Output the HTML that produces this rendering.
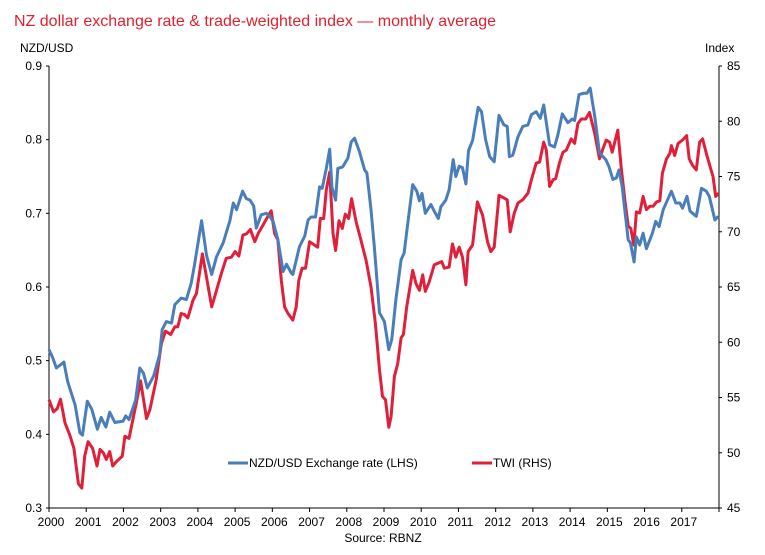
<!DOCTYPE html>
<html><head><meta charset="utf-8"><style>
body{margin:0;background:#fff;}
svg{display:block;font-family:"Liberation Sans",Arial,sans-serif;}
</style></head><body>
<svg id="chart" width="765" height="555" viewBox="0 0 765 555">
<text x="14" y="26" font-size="16" fill="#e2202e">NZ dollar exchange rate &amp; trade-weighted index — monthly average</text>
<text x="20" y="52" font-size="12" fill="#000">NZD/USD</text>
<text x="705" y="52" font-size="12" fill="#000">Index</text>
<g id="axes"></g>
<g id="series"></g>
<g>
<line x1="228" y1="463" x2="248" y2="463" stroke="#4a7ebb" stroke-width="3"/>
<text x="249" y="467" font-size="12">NZD/USD Exchange rate (LHS)</text>
<line x1="472" y1="463" x2="492" y2="463" stroke="#e0203a" stroke-width="3"/>
<text x="493" y="467" font-size="12">TWI (RHS)</text>
</g>
<text x="383" y="542" font-size="12" text-anchor="middle">Source: RBNZ</text>
</svg>
<script>
const years=[2000,2001,2002,2003,2004,2005,2006,2007,2008,2009,2010,2011,2012,2013,2014,2015,2016,2017];
const leftTicks=[0.3,0.4,0.5,0.6,0.7,0.8,0.9];
const rightTicks=[45,50,55,60,65,70,75,80,85];
const nzdT=[2000.0,2000.1,2000.2,2000.4,2000.5,2000.6,2000.7,2000.83,2000.9,2001.03,2001.15,2001.3,2001.4,2001.53,2001.63,2001.77,2001.99,2002.06,2002.15,2002.33,2002.44,2002.54,2002.64,2002.81,2002.97,2003.04,2003.15,2003.29,2003.38,2003.55,2003.69,2003.82,2003.91,2004.1,2004.23,2004.37,2004.5,2004.68,2004.86,2004.95,2005.04,2005.2,2005.3,2005.4,2005.5,2005.57,2005.7,2005.84,2005.93,2006.02,2006.15,2006.29,2006.38,2006.51,2006.55,2006.73,2006.87,2006.96,2007.04,2007.16,2007.27,2007.34,2007.45,2007.54,2007.6,2007.7,2007.76,2007.89,2008.03,2008.12,2008.21,2008.34,2008.48,2008.54,2008.65,2008.74,2008.88,2009.01,2009.13,2009.21,2009.32,2009.46,2009.54,2009.66,2009.77,2009.88,2009.95,2010.02,2010.11,2010.26,2010.35,2010.46,2010.53,2010.66,2010.75,2010.86,2010.93,2011.02,2011.11,2011.2,2011.27,2011.38,2011.53,2011.62,2011.73,2011.84,2011.96,2012.09,2012.22,2012.31,2012.37,2012.46,2012.6,2012.73,2012.87,2012.96,2013.09,2013.2,2013.29,2013.45,2013.58,2013.67,2013.79,2013.94,2014.06,2014.12,2014.24,2014.35,2014.45,2014.54,2014.66,2014.79,2014.96,2015.04,2015.15,2015.24,2015.31,2015.4,2015.56,2015.62,2015.72,2015.78,2015.87,2015.96,2016.05,2016.21,2016.3,2016.39,2016.5,2016.72,2016.84,2016.95,2017.02,2017.14,2017.22,2017.39,2017.53,2017.66,2017.74,2017.89,2017.98];
const nzdV=[0.515,0.504,0.49,0.498,0.472,0.456,0.44,0.402,0.399,0.445,0.434,0.407,0.423,0.41,0.43,0.416,0.418,0.425,0.42,0.447,0.49,0.483,0.463,0.479,0.508,0.542,0.553,0.551,0.576,0.585,0.583,0.605,0.63,0.69,0.643,0.617,0.641,0.66,0.69,0.714,0.705,0.73,0.72,0.718,0.71,0.68,0.698,0.7,0.696,0.689,0.664,0.621,0.631,0.619,0.617,0.655,0.669,0.691,0.695,0.695,0.736,0.734,0.761,0.787,0.736,0.718,0.761,0.763,0.775,0.797,0.802,0.784,0.759,0.755,0.705,0.655,0.565,0.553,0.515,0.529,0.583,0.637,0.646,0.695,0.739,0.73,0.717,0.727,0.7,0.712,0.703,0.693,0.709,0.718,0.732,0.773,0.75,0.764,0.762,0.74,0.785,0.799,0.844,0.838,0.8,0.777,0.77,0.833,0.82,0.818,0.777,0.779,0.804,0.818,0.82,0.834,0.838,0.829,0.847,0.793,0.79,0.806,0.835,0.823,0.828,0.826,0.861,0.863,0.863,0.87,0.832,0.782,0.773,0.764,0.746,0.748,0.759,0.736,0.664,0.66,0.634,0.668,0.657,0.673,0.652,0.673,0.689,0.682,0.705,0.73,0.714,0.714,0.707,0.723,0.703,0.696,0.734,0.73,0.723,0.691,0.696];
const twiT=[2000.0,2000.12,2000.22,2000.31,2000.43,2000.56,2000.67,2000.79,2000.88,2000.96,2001.05,2001.17,2001.29,2001.37,2001.46,2001.54,2001.63,2001.71,2001.81,2001.97,2002.04,2002.15,2002.35,2002.46,2002.62,2002.71,2002.88,2003.02,2003.13,2003.27,2003.38,2003.46,2003.55,2003.64,2003.73,2003.87,2003.96,2004.12,2004.23,2004.37,2004.5,2004.63,2004.76,2004.9,2005.0,2005.1,2005.21,2005.3,2005.41,2005.53,2005.62,2005.75,2005.88,2005.97,2006.06,2006.15,2006.24,2006.33,2006.42,2006.55,2006.64,2006.71,2006.8,2006.89,2007.0,2007.13,2007.22,2007.29,2007.38,2007.45,2007.54,2007.63,2007.7,2007.79,2007.88,2007.96,2008.05,2008.13,2008.25,2008.38,2008.52,2008.65,2008.77,2008.88,2008.96,2009.04,2009.13,2009.19,2009.28,2009.37,2009.46,2009.52,2009.61,2009.77,2009.86,2009.95,2010.04,2010.11,2010.21,2010.35,2010.48,2010.55,2010.62,2010.75,2010.84,2010.93,2011.02,2011.11,2011.2,2011.26,2011.38,2011.51,2011.65,2011.78,2011.87,2011.96,2012.09,2012.25,2012.31,2012.39,2012.5,2012.6,2012.73,2012.87,2012.96,2013.09,2013.18,2013.29,2013.36,2013.45,2013.54,2013.61,2013.72,2013.81,2013.9,2014.03,2014.12,2014.21,2014.3,2014.42,2014.52,2014.66,2014.79,2014.88,2014.97,2015.06,2015.13,2015.28,2015.37,2015.47,2015.56,2015.63,2015.71,2015.78,2015.87,2015.96,2016.05,2016.14,2016.23,2016.32,2016.41,2016.48,2016.59,2016.68,2016.72,2016.81,2016.9,2017.02,2017.13,2017.2,2017.29,2017.39,2017.48,2017.56,2017.66,2017.75,2017.84,2017.91,2017.99];
const twiV=[54.8,53.7,54.0,54.85,52.7,51.6,50.4,47.2,46.8,49.7,51.0,50.4,48.8,50.3,50.0,49.4,50.1,48.8,49.2,49.7,51.5,51.3,54.6,56.5,53.1,53.9,56.6,59.9,61.0,60.7,61.4,61.4,62.6,62.5,62.2,63.8,64.4,68.0,65.9,63.2,64.7,66.2,67.6,67.7,68.2,67.8,69.7,69.8,70.2,69.1,69.85,70.6,71.4,71.9,69.85,69.25,65.6,63.2,62.6,62.0,63.2,65.6,66.7,66.7,69.1,68.8,68.6,71.2,71.2,73.8,75.4,69.85,68.3,71.0,70.3,71.6,71.2,73.0,70.9,69.25,67.4,65.0,61.7,57.5,55.1,54.8,52.3,53.3,56.9,58.1,60.4,60.7,63.2,66.5,65.3,64.7,66.1,64.6,65.4,67.0,67.2,67.3,66.7,66.8,68.9,67.7,68.6,67.7,65.2,68.2,68.8,72.7,71.5,69.1,68.2,68.6,73.3,73.0,72.9,70.0,71.7,72.6,72.9,73.5,74.7,76.2,76.3,78.1,77.4,74.1,74.7,74.8,76.3,77.2,77.4,78.4,78.0,79.8,80.2,80.2,80.8,78.9,76.6,77.5,78.3,78.1,77.2,79.2,75.9,72.9,70.5,70.3,68.8,71.8,71.7,73.2,72.0,72.3,72.3,72.7,72.8,75.3,76.6,77.1,77.8,76.9,78.0,78.3,78.7,76.6,76.0,75.6,78.1,78.4,77.1,76.0,75.0,73.2,73.5];

const X0=49,X1=719,Y0=66,Y1=508;
const xs=t=>X0+(t-2000)/18*(X1-X0);
const yl=v=>Y1-(v-0.3)/0.6*(Y1-Y0);
const yr=v=>Y1-(v-45)/40*(Y1-Y0);
const NS="http://www.w3.org/2000/svg";
const axes=document.getElementById('axes'),ser=document.getElementById('series');
function mk(tag,attrs,parent){const e=document.createElementNS(NS,tag);for(const k in attrs)e.setAttribute(k,attrs[k]);parent.appendChild(e);return e;}
const la=mk('line',{x1:X0,y1:Y0,x2:X0,y2:Y1,stroke:'#000','stroke-width':1},axes);


const ra=mk('line',{x1:X1,y1:Y0,x2:X1,y2:Y1,stroke:'#000','stroke-width':1},axes);


const xa=mk('line',{x1:X0,y1:Y1,x2:X1,y2:Y1,stroke:'#000','stroke-width':1},axes);


leftTicks.forEach(v=>{const y=yl(v);mk('line',{x1:X0-3,y1:y,x2:X0,y2:y,stroke:'#000'},axes);
const t=mk('text',{x:X0-7,y:y+4,'font-size':12,'text-anchor':'end'},axes);t.textContent=v.toFixed(1);

});
rightTicks.forEach(v=>{const y=yr(v);mk('line',{x1:X1,y1:y,x2:X1+3,y2:y,stroke:'#000'},axes);
const t=mk('text',{x:X1+8,y:y+4,'font-size':12},axes);t.textContent=v;

});
years.concat([2018]).forEach(v=>{const x=xs(v);mk('line',{x1:x,y1:Y1,x2:x,y2:Y1+4,stroke:'#000'},axes);});
years.forEach(v=>{const t=mk('text',{x:xs(v)+2,y:Y1+18,'font-size':12,'text-anchor':'middle'},axes);t.textContent=v;

});
function line(T,V,yf,col){return mk('polyline',{points:T.map((t,i)=>xs(t).toFixed(1)+','+yf(V[i]).toFixed(1)).join(' '),fill:'none',stroke:col,'stroke-width':3,'stroke-linejoin':'round'},ser);}
const lt=line(twiT,twiV,yr,'#e0203a');


const ln=line(nzdT,nzdV,yl,'#4a7ebb');


</script>
</body></html>
